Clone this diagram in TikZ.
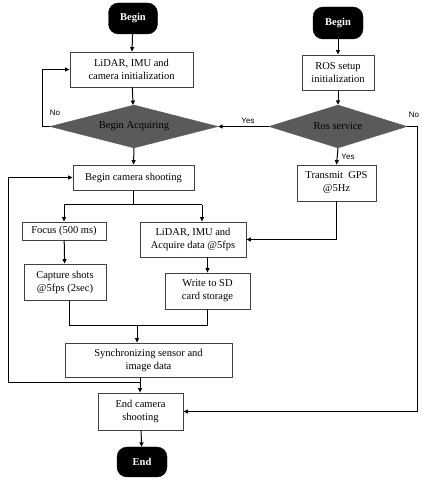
\documentclass[tikz,border=0pt]{standalone}
\usepackage{fontspec}
\setmainfont{Liberation Serif}
\newfontfamily\lblfont{Liberation Sans}
\usetikzlibrary{positioning,calc,arrows.meta,shapes.geometric}
\definecolor{txt}{HTML}{000000}
\definecolor{bxB}{HTML}{404040}
\definecolor{dmF}{HTML}{5A5A5A}
\definecolor{lnB}{HTML}{000000}

\begin{document}
\begin{tikzpicture}[
  x=1pt,y=1pt,
  font=\fontsize{10.5}{13}\selectfont,text=txt,
  >={Triangle[length=4.5pt,width=4pt]},
  bx/.style={draw=bxB,line width=0.8pt,fill=white,align=center,inner sep=2pt},
  term/.style={fill=black,draw=black,rounded corners=10pt,text=white,font=\fontsize{10.5}{13}\selectfont\bfseries},
  dec/.style={diamond,aspect=4,fill=dmF,draw=dmF,inner sep=0pt},
  ln/.style={lnB,line width=1pt},
  lbl/.style={font=\lblfont\fontsize{8}{9}\selectfont},
  ]
\useasboundingbox (0,0) rectangle (426,480);

% ================= LEFT: sensors + camera =================
\node[term,minimum width=49pt,minimum height=31pt] (b1) at (133,461.5) {Begin};
\node[bx,minimum width=123pt,minimum height=35pt] (init1) at (131.5,410.5) {LiDAR, IMU and\\camera initialization};
\node[dec,minimum width=168pt,minimum height=43pt] (acq) at (134,353.5) {Begin Acquiring};
\node[bx,minimum width=121pt,minimum height=25pt] (shoot) at (133.5,302.5) {Begin camera shooting};

\node[bx,minimum width=84pt,minimum height=18pt] (focus) at (64,249) {Focus (500 ms)};
\node[bx,minimum width=82pt,minimum height=36pt] (capt) at (65,198) {Capture shots\\@5fps (2sec)};
\node[bx,minimum width=106pt,minimum height=35pt] (lid) at (193,240.5) {LiDAR, IMU and\\Acquire data @5fps};
\node[bx,minimum width=85pt,minimum height=36pt] (sd) at (207.5,189) {Write to SD\\card storage};

\node[bx,minimum width=167pt,minimum height=34pt] (sync) at (148.5,120) {Synchronizing sensor and\\image data};
\node[bx,minimum width=85pt,minimum height=37pt] (endcam) at (140.5,68.5) {End camera\\shooting};
\node[term,minimum width=50pt,minimum height=30pt] (e) at (142,18) {End};

% ================= RIGHT: ROS / GPS =================
\node[term,minimum width=50pt,minimum height=32pt] (b2) at (338,457) {Begin};
\node[bx,minimum width=72pt,minimum height=35pt] (ros) at (338,407.5) {ROS setup\\initialization};
\node[dec,minimum width=138pt,minimum height=43pt] (rsv) at (338,353.5) {Ros service};
\node[bx,minimum width=79pt,minimum height=36pt] (gps) at (336.5,297) {Transmit~~GPS\\@5Hz};

% ---- helper points of the connectors ----
\coordinate (sp) at (133.5,275);
\coordinate (spR) at (202,275);
\coordinate (mg) at (137,154);
\coordinate (ec) at (140,97);
\coordinate (lp) at (8,97);

% ================= connectors =================
\draw[ln,->] (b1) -- (init1);
\draw[ln,->] (init1) -- (acq);
\draw[ln,->] (acq.west) -- ++(-7,0) |- (init1.west) ;
\node[lbl] at (55,367) {No};
\draw[ln,->] (acq.south) -- (shoot.north);

\draw[ln] (shoot.south) -- (sp);
\draw[ln] (focus.north|-sp) -- (spR);
\draw[ln,->] (focus.north|-sp) -- (focus.north);
\draw[ln,->] (spR) -- (spR|-lid.north);
\draw[ln,->] (focus) -- (capt);
\draw[ln,->] (lid.south-|sd.north) -- (sd.north);

\draw[ln] ([xshift=4pt]capt.south) |- (sd.south|-mg) -- (sd.south);
\draw[ln,->] (mg) -- (mg|-sync.north);

\draw[ln,->] (ec|-sync.south) -- (ec|-endcam.north);
\draw[ln,->] (ec) -- (lp) |- (shoot.west);
\draw[ln,->] (endcam) -- (e);

\draw[ln,->] (b2) -- (ros);
\draw[ln,->] (ros) -- (rsv);
\draw[ln,->] (rsv.west) -- (acq.east);
\node[lbl] at (248,359) {Yes};
\draw[ln,->] (rsv.south) -- (gps.north);
\node[lbl] at (348,323) {Yes};
\draw[ln,->] (rsv.east) -- ++(10,0) |- (endcam.east);
\node[lbl] at (414,365) {No};
\draw[ln,->] (gps.south) |- (lid.east);

\end{tikzpicture}
\end{document}
